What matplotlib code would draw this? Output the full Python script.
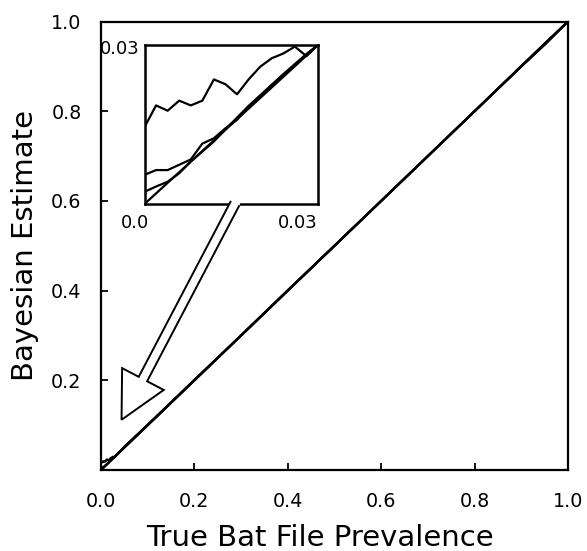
import numpy as np
import matplotlib
matplotlib.use("Agg")
import matplotlib.pyplot as plt
from matplotlib.patches import Polygon
from matplotlib.lines import Line2D

plt.rcParams['font.family'] = ['DejaVu Sans']

# ---- data ----
x_low = [0.000, 0.002, 0.004, 0.006, 0.008, 0.010, 0.012, 0.014,
         0.016, 0.018, 0.020, 0.022, 0.024, 0.026, 0.028, 0.030]
est_a_low = [0.0145, 0.0186, 0.0176, 0.0195, 0.0186, 0.0195, 0.0235, 0.0226,
             0.0207, 0.0235, 0.0259, 0.0275, 0.0284, 0.0297, 0.0279, 0.0300]
est_b_low = [0.0055, 0.0064, 0.0064, 0.0074, 0.0084, 0.0114, 0.0124, 0.0143,
             0.0159, 0.0184, 0.0204, 0.0224, 0.0244, 0.0263, 0.0282, 0.0300]
est_c_low = [0.0023, 0.0033, 0.0042, 0.0058, 0.0080, 0.0099, 0.0118, 0.0141,
             0.0163, 0.0185, 0.0205, 0.0225, 0.0245, 0.0264, 0.0283, 0.0300]

x_high = [0.05, 0.1, 0.2, 0.3, 0.4, 0.5, 0.6, 0.7, 0.8, 0.9, 0.95, 1.0]
est_a_high = [0.052, 0.101, 0.201, 0.300, 0.401, 0.500, 0.600, 0.700, 0.800, 0.901, 0.951, 1.0]
est_b_high = [0.051, 0.100, 0.200, 0.300, 0.400, 0.500, 0.600, 0.700, 0.800, 0.900, 0.949, 1.0]
est_c_high = [0.050, 0.100, 0.200, 0.300, 0.400, 0.500, 0.600, 0.700, 0.800, 0.900, 0.948, 1.0]

ref_line = [0.0, 1.0]

main_ticks = [0.0, 0.2, 0.4, 0.6, 0.8, 1.0]
main_ticklabels = ['0.0', '0.2', '0.4', '0.6', '0.8', '1.0']
inset_lim = 0.03
inset_labels = ['0.0', '0.03']

x_all = x_low + x_high
series = [est_a_low + est_a_high, est_b_low + est_b_high, est_c_low + est_c_high]
series_low = [est_a_low, est_b_low, est_c_low]

# ---- figure ----
W, H = 587, 551
fig = plt.figure(figsize=(W / 100, H / 100), dpi=100)

L, R, T, B = 101, 568, 21.5, 470
ax = fig.add_axes([L / W, (H - B) / H, (R - L) / W, (B - T) / H])
ax.plot(ref_line, ref_line, color='black', lw=1.6)
for s in series:
    ax.plot(x_all, s, color='black', lw=1.6)
ax.set_xlim(0, 1)
ax.set_ylim(0, 1)
ax.set_xticks(main_ticks)
ax.set_xticklabels(main_ticklabels)
ax.set_yticks(main_ticks[1:])
ax.set_yticklabels(main_ticklabels[1:])
ax.tick_params(direction='in', length=5, width=1.3, labelsize=13.8, color='black')
ax.tick_params(axis='x', pad=15.5)
ax.tick_params(axis='y', pad=14)
for sp in ax.spines.values():
    sp.set_linewidth(1.6)
ax.set_xlabel('True Bat File Prevalence', fontsize=21, labelpad=9.5)
ax.xaxis.label.set_x(0.469)
ax.set_ylabel('Bayesian Estimate', fontsize=21, labelpad=8.5)

# ---- inset ----
iL, iR, iT, iB = 144.5, 318, 45, 204
axi = fig.add_axes([iL / W, (H - iB) / H, (iR - iL) / W, (iB - iT) / H])
axi.plot([0, inset_lim], [0, inset_lim], color='black', lw=1.6)
for s in series_low:
    axi.plot(x_low, s, color='black', lw=1.6)
axi.set_xlim(0, inset_lim)
axi.set_ylim(0, inset_lim)
axi.set_xticks([])
axi.set_yticks([])
for sp in axi.spines.values():
    sp.set_linewidth(1.8)
axi.text(-0.055, -0.06, inset_labels[0], transform=axi.transAxes, ha='center', va='top', fontsize=13)
axi.text(1.0, -0.06, inset_labels[1], transform=axi.transAxes, ha='right', va='top', fontsize=13)
axi.text(-0.026, 0.975, inset_labels[1], transform=axi.transAxes, ha='right', va='center', fontsize=13)

# ---- hollow arrow from inset to origin region ----
fig.canvas.draw()
tail = axi.transAxes.transform((0.52, 0.0))
tip = ax.transData.transform((0.044, 0.112))
d = tip - tail
length = np.hypot(*d)
u = d / length
p = np.array([-u[1], u[0]])
shaft_w, head_w, head_l = 9.5, 47.0, 46.0
base = tip - u * head_l
ext = tail - u * 3
pts = np.array([
    tail + p * shaft_w / 2,
    base + p * shaft_w / 2,
    base + p * head_w / 2,
    tip,
    base - p * head_w / 2,
    base - p * shaft_w / 2,
    tail - p * shaft_w / 2,
])
fill_pts = np.vstack([ext + p * shaft_w / 2, pts[1:6], ext - p * shaft_w / 2])
ident = matplotlib.transforms.IdentityTransform()
fig.add_artist(Polygon(fill_pts, closed=True, facecolor='white', edgecolor='none',
                       transform=ident, zorder=10))
fig.add_artist(Line2D(pts[:, 0], pts[:, 1], color='black', lw=1.4,
                      transform=ident, zorder=11, solid_joinstyle='miter'))

fig.savefig('out.png', dpi=100)
